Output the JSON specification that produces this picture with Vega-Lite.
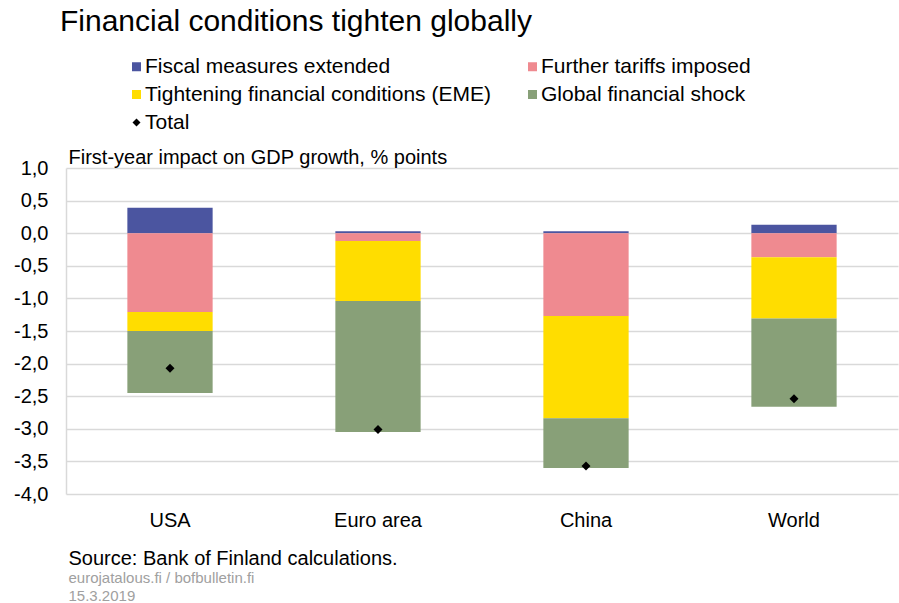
{
  "$schema": "https://vega.github.io/schema/vega-lite/v6.json",
  "width": 832,
  "height": 326,
  "autosize": {"type": "none"},
  "padding": {"left": 66, "top": 168, "right": 1, "bottom": 109},
  "background": "white",
  "config": {
    "font": "Liberation Sans",
    "view": {"stroke": null},
    "axisY": {
      "values": [-4, -3.5, -3, -2.5, -2, -1.5, -1, -0.5, 0, 0.5, 1],
      "labelExpr": "(datum.value < 0 ? '-' : '') + replace(format(abs(datum.value), '.1f'), '.', ',')",
      "labelOverlap": false,
      "labelFontSize": 20,
      "labelColor": "#000000",
      "labelPadding": 18,
      "ticks": false,
      "domain": true,
      "domainColor": "#d9d9d9",
      "domainWidth": 1.5,
      "grid": true,
      "gridColor": "#d9d9d9",
      "gridWidth": 1.5,
      "titleAngle": 0,
      "titleFontSize": 20,
      "titleFontWeight": "normal",
      "titleColor": "#000000",
      "titleAlign": "left",
      "titleAnchor": "start",
      "titleBaseline": "alphabetic",
      "titleX": 2,
      "titleY": -5
    }
  },
  "title": {
    "text": "Financial conditions tighten globally",
    "anchor": "start",
    "frame": "group",
    "fontSize": 30,
    "fontWeight": "normal",
    "color": "#000000",
    "baseline": "alphabetic",
    "dx": -6,
    "dy": 5,
    "offset": 0
  },
  "datasets": {
    "components": [
      {"region": "USA", "component": "Fiscal measures extended", "ord": 1, "value": 0.39},
      {"region": "USA", "component": "Further tariffs imposed", "ord": 2, "value": -1.21},
      {"region": "USA", "component": "Tightening financial conditions (EME)", "ord": 3, "value": -0.29},
      {"region": "USA", "component": "Global financial shock", "ord": 4, "value": -0.95},
      {"region": "Euro area", "component": "Fiscal measures extended", "ord": 1, "value": 0.03},
      {"region": "Euro area", "component": "Further tariffs imposed", "ord": 2, "value": -0.12},
      {"region": "Euro area", "component": "Tightening financial conditions (EME)", "ord": 3, "value": -0.92},
      {"region": "Euro area", "component": "Global financial shock", "ord": 4, "value": -2.01},
      {"region": "China", "component": "Fiscal measures extended", "ord": 1, "value": 0.03},
      {"region": "China", "component": "Further tariffs imposed", "ord": 2, "value": -1.27},
      {"region": "China", "component": "Tightening financial conditions (EME)", "ord": 3, "value": -1.57},
      {"region": "China", "component": "Global financial shock", "ord": 4, "value": -0.76},
      {"region": "World", "component": "Fiscal measures extended", "ord": 1, "value": 0.13},
      {"region": "World", "component": "Further tariffs imposed", "ord": 2, "value": -0.37},
      {"region": "World", "component": "Tightening financial conditions (EME)", "ord": 3, "value": -0.94},
      {"region": "World", "component": "Global financial shock", "ord": 4, "value": -1.35}
    ],
    "totals": [
      {"region": "USA", "component": "Total", "value": -2.07},
      {"region": "Euro area", "component": "Total", "value": -3.01},
      {"region": "China", "component": "Total", "value": -3.57},
      {"region": "World", "component": "Total", "value": -2.54}
    ]
  },
  "layer": [
    {
      "data": {"name": "components"},
      "mark": {"type": "bar", "strokeWidth": 0},
      "encoding": {
        "x": {
          "field": "region",
          "type": "nominal",
          "sort": ["USA", "Euro area", "China", "World"],
          "scale": {"paddingInner": 0.59, "paddingOuter": 0.295},
          "axis": {
            "orient": "bottom",
            "labelAngle": 0,
            "labelFontSize": 20,
            "labelColor": "#000000",
            "labelPadding": 16,
            "ticks": false,
            "domain": false,
            "grid": false,
            "title": "Source: Bank of Finland calculations.",
            "titleFontSize": 20,
            "titleFontWeight": "normal",
            "titleColor": "#000000",
            "titleAnchor": "start",
            "titleAlign": "left",
            "titleBaseline": "alphabetic",
            "titleX": 2,
            "titleY": 70
          }
        },
        "y": {
          "field": "value",
          "type": "quantitative",
          "stack": "zero",
          "scale": {"domain": [-4, 1], "nice": false, "zero": false},
          "axis": {
            "values": [-4, -3.5, -3, -2.5, -2, -1.5, -1, -0.5, 0, 0.5, 1],
            "title": "First-year impact on GDP growth, % points"
          }
        },
        "order": {"field": "ord", "type": "quantitative"},
        "color": {
          "field": "component",
          "type": "nominal",
          "scale": {
            "domain": ["Fiscal measures extended", "Further tariffs imposed", "Tightening financial conditions (EME)", "Global financial shock", "Total"],
            "range": ["#4b55a0", "#ef8a90", "#ffdd00", "#88a078", "#000000"]
          },
          "legend": {
            "title": null,
            "orient": "none",
            "direction": "horizontal",
            "legendX": 60,
            "legendY": -112,
            "columns": 2,
            "columnPadding": 31,
            "rowPadding": 6,
            "padding": 0,
            "labelFontSize": 21,
            "labelLimit": 600,
            "labelColor": "#000000",
            "labelOffset": -2,
            "symbolSize": 81,
            "symbolStrokeWidth": 0,
            "encode": {
              "symbols": {
                "update": {
                  "shape": {"signal": "datum.value === 'Total' ? 'diamond' : 'square'"},
                  "size": {"signal": "datum.value === 'Total' ? 64 : 81"}
                }
              }
            }
          }
        }
      }
    },
    {
      "data": {"name": "totals"},
      "mark": {"type": "point", "shape": "diamond", "filled": true, "size": 80, "opacity": 1},
      "encoding": {
        "x": {
          "field": "region",
          "type": "nominal",
          "sort": ["USA", "Euro area", "China", "World"],
          "axis": {
            "orient": "bottom",
            "labels": false,
            "ticks": false,
            "domain": false,
            "grid": false,
            "title": ["eurojatalous.fi / bofbulletin.fi", "15.3.2019"],
            "titleFontSize": 15,
            "titleFontWeight": "normal",
            "titleColor": "#a0a0a0",
            "titleLineHeight": 18,
            "titleAnchor": "start",
            "titleAlign": "left",
            "titleBaseline": "alphabetic",
            "titleX": 2,
            "titleY": 88
          }
        },
        "y": {
          "field": "value",
          "type": "quantitative",
          "axis": {
            "values": [-4, -3.5, -3, -2.5, -2, -1.5, -1, -0.5, 0, 0.5, 1],
            "title": "First-year impact on GDP growth, % points"
          }
        },
        "color": {"field": "component", "type": "nominal"}
      }
    }
  ],
  "resolve": {"axis": {"x": "independent"}}
}
